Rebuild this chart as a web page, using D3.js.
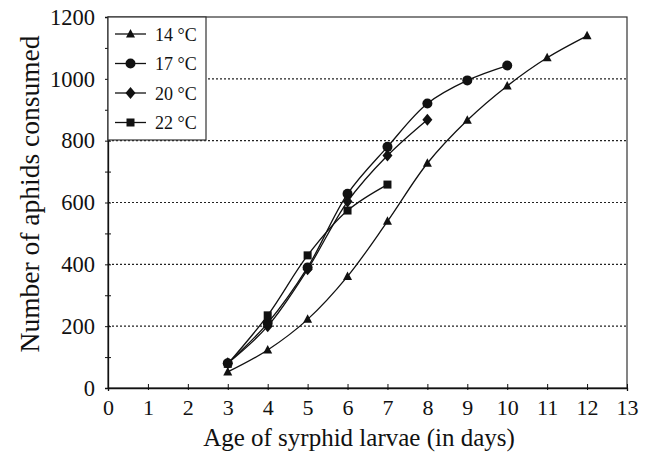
<!DOCTYPE html>
<html>
<head>
<meta charset="utf-8">
<script src="https://cdn.jsdelivr.net/npm/d3@7/dist/d3.min.js"></script>
<style>
  html, body { margin: 0; padding: 0; background: #fff; }
  svg { display: block; }
  text { font-family: "Liberation Serif", "Times New Roman", serif; fill: #111; }
</style>
</head>
<body>
<svg id="chart" width="654" height="461"></svg>
<script>
// ---- data ----
const days14 = [3, 4, 5, 6, 7, 8, 9, 10, 11, 12];
const vals14 = [52, 123, 222, 361, 539, 727, 866, 977, 1068, 1139];
const days17 = [3, 4, 5, 6, 7, 8, 9, 10];
const vals17 = [80, 210, 390, 628, 780, 920, 995, 1043];
const days20 = [3, 4, 5, 6, 7, 8];
const vals20 = [80, 200, 384, 603, 752, 868];
const days22 = [3, 4, 5, 6, 7];
const vals22 = [78, 235, 429, 574, 658];
const seriesNames = ["14 °C", "17 °C", "20 °C", "22 °C"];
const markerTypes = ["triangle", "circle", "diamond", "square"];
const xTicks = [0,1,2,3,4,5,6,7,8,9,10,11,12,13];
const yTicks = [0, 200, 400, 600, 800, 1000, 1200];
const gridValues = [200, 400, 600, 800, 1000];
const xTitle = "Age of syrphid larvae (in days)";
const yTitle = "Number of aphids consumed";

const series = [
  {name: seriesNames[0], marker: markerTypes[0], pts: days14.map((d,i)=>({x:d,y:vals14[i]}))},
  {name: seriesNames[1], marker: markerTypes[1], pts: days17.map((d,i)=>({x:d,y:vals17[i]}))},
  {name: seriesNames[2], marker: markerTypes[2], pts: days20.map((d,i)=>({x:d,y:vals20[i]}))},
  {name: seriesNames[3], marker: markerTypes[3], pts: days22.map((d,i)=>({x:d,y:vals22[i]}))}
];

// ---- layout ----
const L = 108, R = 627, T = 17, B = 388;
const x = d3.scaleLinear().domain([0, 13]).range([L, R]);
const y = d3.scaleLinear().domain([0, 1200]).range([B, T]);
const svg = d3.select("#chart");
const ink = "#111";
const serif = "Liberation Serif, Times New Roman, serif";

// gridlines
svg.append("g").selectAll("line").data(gridValues).join("line")
  .attr("x1", L).attr("x2", R)
  .attr("y1", d => y(d)).attr("y2", d => y(d))
  .attr("stroke", "#222").attr("stroke-width", 1.1)
  .attr("stroke-dasharray", "2,2");

// frame
svg.append("rect").attr("x", L).attr("y", T).attr("width", R - L).attr("height", B - T)
  .attr("fill", "none").attr("stroke", "#333").attr("stroke-width", 1.2);

// y axis
const yAxis = d3.axisLeft(y).tickValues(d3.range(0, 1201, 100)).tickSize(3).tickPadding(10)
  .tickFormat(d => yTicks.includes(d) ? d : "");
const gy = svg.append("g").attr("transform", `translate(${L},0)`).call(yAxis);
gy.attr("font-family", serif);
gy.select(".domain").attr("stroke", ink).attr("stroke-width", 1.3);
gy.selectAll(".tick line").attr("stroke", ink).attr("x2", -3).attr("x1", 3);
gy.selectAll(".tick text").attr("font-size", 22.5).attr("fill", ink).attr("dy", "0.32em");

// x axis
const xAxis = d3.axisBottom(x).tickValues(xTicks).tickSize(3).tickPadding(8);
const gx = svg.append("g").attr("transform", `translate(0,${B})`).call(xAxis);
gx.attr("font-family", serif);
gx.select(".domain").attr("stroke", ink).attr("stroke-width", 1.3);
gx.selectAll(".tick line").attr("stroke", ink).attr("y1", -4).attr("y2", 2);
gx.selectAll(".tick text").attr("font-size", 22).attr("fill", ink);

// axis titles
svg.append("text").attr("x", 359).attr("y", 446)
  .attr("text-anchor", "middle").attr("font-size", 25).text(xTitle);
svg.append("text").attr("transform", `translate(39,${194}) rotate(-90)`)
  .attr("text-anchor", "middle").attr("font-size", 27.5).text(yTitle);

// markers
function drawMarker(g, type, cx, cy) {
  if (type === "triangle") {
    g.append("path").attr("d", `M${cx},${cy-5}L${cx+4.5},${cy+3.5}L${cx-4.5},${cy+3.5}Z`).attr("fill", ink);
  } else if (type === "circle") {
    g.append("circle").attr("cx", cx).attr("cy", cy).attr("r", 5).attr("fill", ink);
  } else if (type === "diamond") {
    g.append("path").attr("d", `M${cx},${cy-6}L${cx+5},${cy}L${cx},${cy+6}L${cx-5},${cy}Z`).attr("fill", ink);
  } else {
    g.append("rect").attr("x", cx - 4).attr("y", cy - 4).attr("width", 8).attr("height", 8).attr("fill", ink);
  }
}

const line = d3.line().x(d => x(d.x)).y(d => y(d.y)).curve(d3.curveCatmullRom.alpha(0.5));
series.forEach(s => {
  const g = svg.append("g");
  g.append("path").datum(s.pts).attr("d", line)
    .attr("fill", "none").attr("stroke", ink).attr("stroke-width", 1.3);
  s.pts.forEach(p => drawMarker(g, s.marker, x(p.x), y(p.y)));
});

// legend
const lg = svg.append("g");
lg.append("rect").attr("x", L).attr("y", T).attr("width", 98).attr("height", 123)
  .attr("fill", "#fff").attr("stroke", "#333").attr("stroke-width", 1.2);
series.forEach((s, i) => {
  const ly = 34 + i * 29.5;
  lg.append("line").attr("x1", 115).attr("x2", 146).attr("y1", ly).attr("y2", ly)
    .attr("stroke", ink).attr("stroke-width", 1.3);
  drawMarker(lg, s.marker, 130.5, ly);
  lg.append("text").attr("x", 155).attr("y", ly + 6.5).attr("font-size", 18).text(s.name);
});
</script>
</body>
</html>
